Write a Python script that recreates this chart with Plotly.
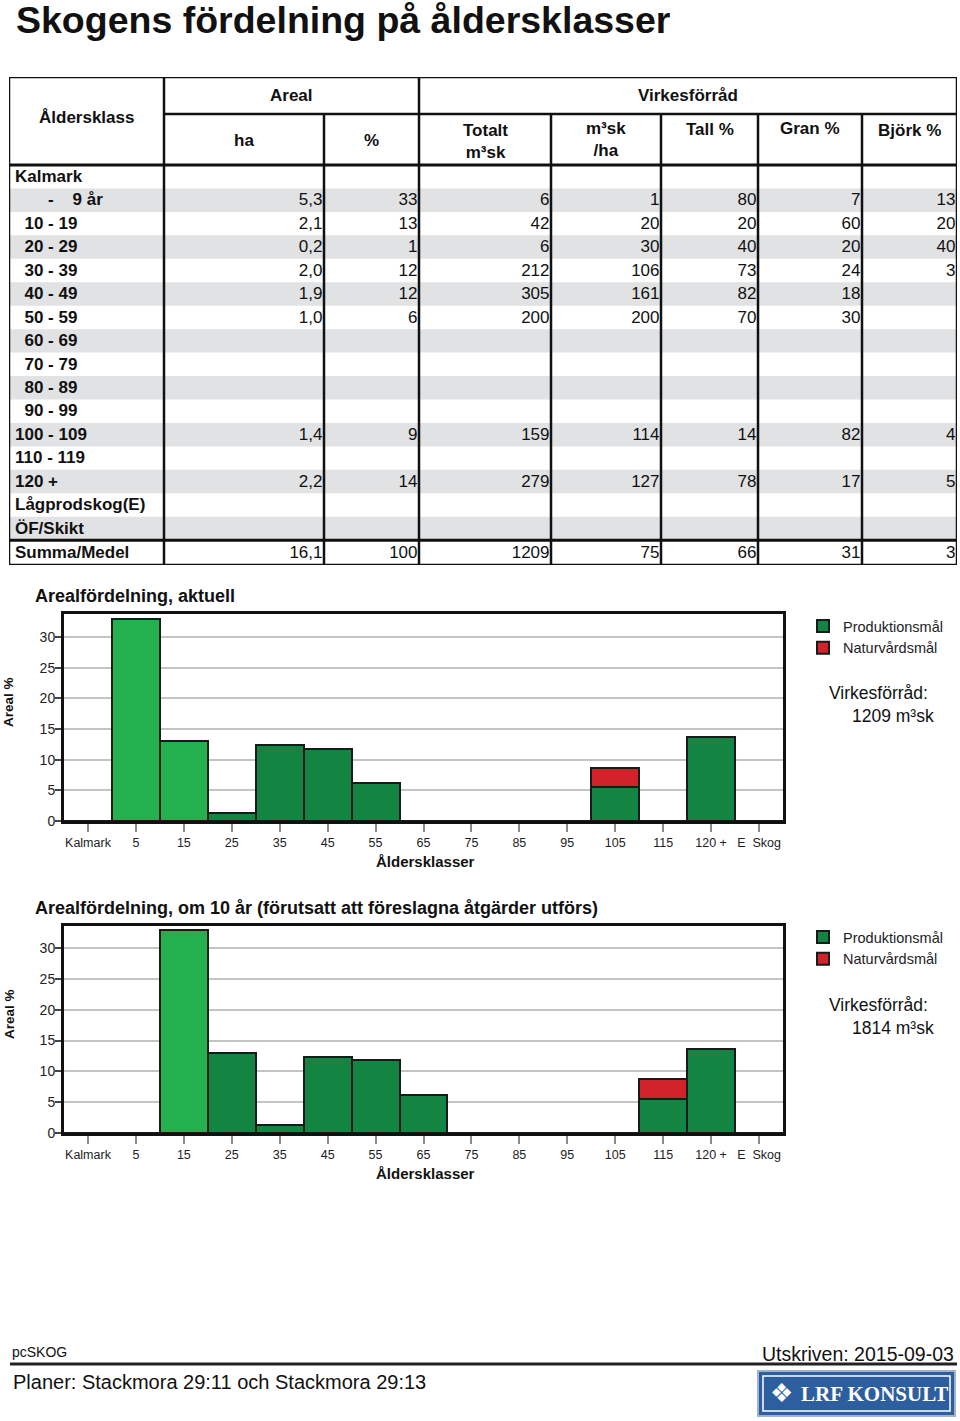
import plotly.graph_objects as go

W, H = 960, 1421


def px(x):
    return x / W


def py(y):
    return 1 - y / H


# ---------------- data ----------------
age_classes = [
    "Kalmark",
    "\u00a0\u00a0\u00a0\u00a0\u00a0\u00a0\u00a0-\u00a0\u00a0\u00a0\u00a09 år",
    "\u00a0\u00a010 - 19", "\u00a0\u00a020 - 29", "\u00a0\u00a030 - 39", "\u00a0\u00a040 - 49",
    "\u00a0\u00a050 - 59", "\u00a0\u00a060 - 69", "\u00a0\u00a070 - 79", "\u00a0\u00a080 - 89",
    "\u00a0\u00a090 - 99", "100 - 109", "110 - 119", "120 +", "Lågprodskog(E)", "ÖF/Skikt",
]
areal_ha = [None, 5.3, 2.1, 0.2, 2.0, 1.9, 1.0, None, None, None, None, 1.4, None, 2.2, None, None]
areal_pct = [None, 33, 13, 1, 12, 12, 6, None, None, None, None, 9, None, 14, None, None]
virke_tot = [None, 6, 42, 6, 212, 305, 200, None, None, None, None, 159, None, 279, None, None]
virke_per_ha = [None, 1, 20, 30, 106, 161, 200, None, None, None, None, 114, None, 127, None, None]
tall_pct = [None, 80, 20, 40, 73, 82, 70, None, None, None, None, 14, None, 78, None, None]
gran_pct = [None, 7, 60, 20, 24, 18, 30, None, None, None, None, 82, None, 17, None, None]
bjork_pct = [None, 13, 20, 40, 3, None, None, None, None, None, None, 4, None, 5, None, None]
summa_label = "Summa/Medel"
summa_values = [16.1, 100, 1209, 75, 66, 31, 3]

chart_classes = ["Kalmark", "5", "15", "25", "35", "45", "55", "65", "75", "85",
                 "95", "105", "115", "120 +", "E\u00a0\u00a0Skog"]
aktuell_prod = [0, 32.9, 13.0, 1.3, 12.4, 11.8, 6.2, 0, 0, 0, 0, 5.5, 0, 13.7, 0]
aktuell_natur = [None, None, None, None, None, None, None, None, None, None, None, 3.2, None, None, None]
aktuell_young = ["5", "15"]
om10_prod = [0, 0, 32.9, 13.0, 1.3, 12.4, 11.8, 6.2, 0, 0, 0, 0, 5.5, 13.7, 0]
om10_natur = [None, None, None, None, None, None, None, None, None, None, None, None, 3.2, None, None]
om10_young = ["15"]
virke_aktuell = 1209
virke_om10 = 1814

# ---------------- styles ----------------
FONT = "Liberation Sans, Arial, Helvetica, sans-serif"
INK = "#111111"
LIGHT_GREEN = "#22b14c"
DARK_GREEN = "#138442"
RED = "#d2232a"
STRIPE = "#e1e2e4"

col_widths = [155, 160, 95, 132, 110, 97, 104, 95]
col_edges = [0]
for w_ in col_widths:
    col_edges.append(col_edges[-1] + w_)
TABLE_W = col_edges[-1]
HDR1 = 37
HDR = 88
ROW_H = 23.45
n_rows = len(age_classes)
SUM_TOP = HDR + ROW_H * n_rows
TABLE_H = 488


def row_center(i):
    return HDR + ROW_H * (i + 0.5) + 1


def fmt(v, dec=0):
    if v is None:
        return ""
    if dec:
        return f"{v:.{dec}f}".replace(".", ",")
    return f"{v:d}"


fig = go.Figure()

# ---------------- table ----------------
fig.add_trace(go.Scatter(
    x=[6] * n_rows, y=[row_center(i) for i in range(n_rows)], text=age_classes,
    mode="text", textposition="middle right", xaxis="x", yaxis="y",
    textfont=dict(family=FONT, size=17, color=INK, weight="bold"),
    hoverinfo="skip", showlegend=False, cliponaxis=False))

table_cols = [
    (areal_ha, 1), (areal_pct, 0), (virke_tot, 0), (virke_per_ha, 0),
    (tall_pct, 0), (gran_pct, 0), (bjork_pct, 0),
]
for ci, (vals, dec) in enumerate(table_cols):
    right = col_edges[ci + 2] - 1.5
    fig.add_trace(go.Scatter(
        x=[right] * n_rows, y=[row_center(i) for i in range(n_rows)],
        text=[fmt(v, dec) for v in vals], mode="text", textposition="middle left",
        xaxis="x", yaxis="y", textfont=dict(family=FONT, size=17, color=INK),
        hoverinfo="skip", showlegend=False, cliponaxis=False))

sum_y = (SUM_TOP + TABLE_H) / 2 + 1
fig.add_trace(go.Scatter(
    x=[6], y=[sum_y], text=[summa_label], mode="text", textposition="middle right",
    xaxis="x", yaxis="y", textfont=dict(family=FONT, size=17, color=INK, weight="bold"),
    hoverinfo="skip", showlegend=False, cliponaxis=False))
fig.add_trace(go.Scatter(
    x=[col_edges[ci + 2] - 1.5 for ci in range(len(summa_values))], y=[sum_y] * len(summa_values),
    text=[fmt(summa_values[0], 1)] + [fmt(v) for v in summa_values[1:]],
    mode="text", textposition="middle left", xaxis="x", yaxis="y",
    textfont=dict(family=FONT, size=17, color=INK),
    hoverinfo="skip", showlegend=False, cliponaxis=False))

shapes = []
for i in range(n_rows):
    if i % 2 == 1:
        y0 = HDR + ROW_H * i
        shapes.append(dict(type="rect", xref="x", yref="y", x0=1, x1=TABLE_W - 1, y0=y0, y1=y0 + ROW_H,
                           fillcolor=STRIPE, line=dict(width=0), layer="below"))
LW = 2.5
for k, xe in enumerate(col_edges[1:-1], start=1):
    top = 0 if k in (1, 3) else HDR1
    shapes.append(dict(type="line", xref="x", yref="y", x0=xe, x1=xe, y0=top, y1=TABLE_H,
                       line=dict(color=INK, width=LW)))
shapes.append(dict(type="line", xref="x", yref="y", x0=col_edges[1], x1=TABLE_W, y0=HDR1, y1=HDR1,
                   line=dict(color=INK, width=LW)))
shapes.append(dict(type="line", xref="x", yref="y", x0=0, x1=TABLE_W, y0=HDR, y1=HDR,
                   line=dict(color=INK, width=3)))
shapes.append(dict(type="line", xref="x", yref="y", x0=0, x1=TABLE_W, y0=SUM_TOP, y1=SUM_TOP,
                   line=dict(color=INK, width=3)))
shapes.append(dict(type="rect", xref="x", yref="y", x0=0, x1=TABLE_W, y0=0, y1=TABLE_H,
                   line=dict(color=INK, width=LW)))

annotations = []


def tbl_text(x, y, text, yanchor="middle"):
    annotations.append(dict(xref="x", yref="y", x=x, y=y, text=text, showarrow=False,
                            xanchor="center", yanchor=yanchor, align="center",
                            font=dict(family=FONT, size=17, color=INK, weight="bold")))


def cc(k):
    return (col_edges[k] + col_edges[k + 1]) / 2


tbl_text(cc(0), 40, "Åldersklass")
tbl_text((col_edges[1] + col_edges[3]) / 2, 18, "Areal")
tbl_text((col_edges[3] + col_edges[8]) / 2, 18, "Virkesförråd")
tbl_text(cc(1), 63, "ha")
tbl_text(cc(2), 63, "%")
tbl_text(cc(3), 64, "Totalt<br>m³sk")
tbl_text(cc(4), 62, "m³sk<br>/ha")
tbl_text(cc(5), 52, "Tall %")
tbl_text(cc(6), 51, "Gran %")
tbl_text(cc(7), 53, "Björk %")

# ---------------- charts ----------------
charts = [
    dict(xa="x2", ya="y2", prod=aktuell_prod, natur=aktuell_natur, young=aktuell_young,
         top=614, bottom=821, ymax=33.75, legend="legend",
         title="Arealfördelning, aktuell", virke=virke_aktuell),
    dict(xa="x3", ya="y3", prod=om10_prod, natur=om10_natur, young=om10_young,
         top=926, bottom=1133, ymax=33.6, legend="legend2",
         title="Arealfördelning, om 10 år (förutsatt att föreslagna åtgärder utförs)", virke=virke_om10),
]

layout_axes = {}
for n, ch in enumerate(charts):
    colors = [LIGHT_GREEN if c in ch["young"] else DARK_GREEN for c in chart_classes]
    fig.add_trace(go.Bar(x=chart_classes, y=ch["prod"], name="Produktionsmål",
                         xaxis=ch["xa"], yaxis=ch["ya"], legend=ch["legend"],
                         marker=dict(color=colors, line=dict(color="#1a1a1a", width=2)),
                         hoverinfo="skip"))
    fig.add_trace(go.Bar(x=chart_classes, y=ch["natur"], name="Naturvårdsmål",
                         xaxis=ch["xa"], yaxis=ch["ya"], legend=ch["legend"],
                         marker=dict(color=RED, line=dict(color="#1a1a1a", width=2)),
                         hoverinfo="skip"))
    xk = "xaxis" + ch["xa"][1:]
    yk = "yaxis" + ch["ya"][1:]
    layout_axes[xk] = dict(
        domain=[px(64), px(783)], anchor=ch["ya"], type="category",
        categoryorder="array", categoryarray=chart_classes, range=[-0.5, 14.5],
        showline=True, linecolor="#111", linewidth=3, mirror=True,
        ticks="outside", ticklen=8, tickwidth=2, tickcolor="#8a8a8a", automargin=False,
        tickfont=dict(family=FONT, size=12.5, color="#222"), showgrid=False, fixedrange=True)
    layout_axes[yk] = dict(
        domain=[py(ch["bottom"]), py(ch["top"])], anchor=ch["xa"], range=[0, ch["ymax"]],
        tick0=0, dtick=5, showgrid=True, gridcolor="#c4c4c4", gridwidth=2, automargin=False,
        showline=True, linecolor="#111", linewidth=3, mirror=True,
        ticks="outside", ticklen=6, tickwidth=1.5, tickcolor="#444", ticklabelstandoff=-3,
        tickfont=dict(family=FONT, size=14, color="#222"), zeroline=False, fixedrange=True)

    off = ch["top"] - 614
    annotations.append(dict(xref="paper", yref="paper", x=px(33), y=py(596 + off), text=ch["title"],
                            showarrow=False, xanchor="left", yanchor="middle",
                            font=dict(family=FONT, size=18, color=INK, weight="bold")))
    annotations.append(dict(xref="paper", yref="paper", x=px(9), y=py(702 + off), text="Areal %",
                            textangle=-90, showarrow=False, xanchor="center", yanchor="middle",
                            font=dict(family=FONT, size=13.5, color=INK, weight="bold")))
    annotations.append(dict(xref="paper", yref="paper", x=px(425), y=py(861 + off), text="Åldersklasser",
                            showarrow=False, xanchor="center", yanchor="middle",
                            font=dict(family=FONT, size=15, color=INK, weight="bold")))
    annotations.append(dict(xref="paper", yref="paper", x=px(827), y=py(693 + off), text="Virkesförråd:",
                            showarrow=False, xanchor="left", yanchor="middle",
                            font=dict(family=FONT, size=17.5, color=INK)))
    annotations.append(dict(xref="paper", yref="paper", x=px(850), y=py(716 + off),
                            text=f"{ch['virke']} m³sk",
                            showarrow=False, xanchor="left", yanchor="middle",
                            font=dict(family=FONT, size=17.5, color=INK)))

legend_common = dict(xanchor="left", yanchor="top", bgcolor="rgba(0,0,0,0)",
                     font=dict(family=FONT, size=14.5, color="#222"),
                     itemclick=False, itemdoubleclick=False, traceorder="normal",
                     tracegroupgap=0)

# ---------------- page title and footer ----------------
annotations.append(dict(xref="paper", yref="paper", x=px(14), y=py(20), text="Skogens fördelning på åldersklasser",
                        showarrow=False, xanchor="left", yanchor="middle",
                        font=dict(family=FONT, size=37.5, color=INK, weight="bold")))
annotations.append(dict(xref="paper", yref="paper", x=px(10), y=py(1352), text="pcSKOG",
                        showarrow=False, xanchor="left", yanchor="middle",
                        font=dict(family=FONT, size=14, color=INK)))
annotations.append(dict(xref="paper", yref="paper", x=px(956), y=py(1354), text="Utskriven: 2015-09-03",
                        showarrow=False, xanchor="right", yanchor="middle",
                        font=dict(family=FONT, size=19.5, color=INK)))
annotations.append(dict(xref="paper", yref="paper", x=px(11), y=py(1382),
                        text="Planer: Stackmora 29:11 och Stackmora 29:13",
                        showarrow=False, xanchor="left", yanchor="middle",
                        font=dict(family=FONT, size=20, color=INK)))
annotations.append(dict(xref="paper", yref="paper", x=px(781), y=py(1393), text="❖",
                        showarrow=False, xanchor="center", yanchor="middle",
                        font=dict(family="DejaVu Sans", size=26, color="white")))
annotations.append(dict(xref="paper", yref="paper", x=px(874), y=py(1394), text="LRF KONSULT",
                        showarrow=False, xanchor="center", yanchor="middle",
                        font=dict(family="Liberation Serif, Times New Roman, serif", size=21,
                                  color="white", weight="bold")))

shapes.append(dict(type="line", xref="paper", yref="paper", x0=px(10), x1=px(957),
                   y0=py(1364), y1=py(1364), line=dict(color="#222", width=3)))
shapes.append(dict(type="rect", xref="paper", yref="paper", x0=px(758), x1=px(955),
                   y0=py(1416), y1=py(1371), fillcolor="#2d5e9f", line=dict(color="#9fb3cc", width=2)))
shapes.append(dict(type="rect", xref="paper", yref="paper", x0=px(763), x1=px(950),
                   y0=py(1411), y1=py(1376), line=dict(color="white", width=1.5)))

fig.update_layout(
    width=W, height=H, margin=dict(l=0, r=0, t=0, b=0, pad=0), autosize=False,
    paper_bgcolor="white", plot_bgcolor="white",
    barmode="stack", bargap=0, hovermode=False, showlegend=True,
    xaxis=dict(domain=[px(9), px(957)], range=[0, TABLE_W], visible=False, fixedrange=True,
               anchor="y", automargin=False),
    yaxis=dict(domain=[py(565), py(77)], range=[TABLE_H, 0], visible=False, fixedrange=True,
               anchor="x", automargin=False),
    legend=dict(x=px(803), y=py(610), **legend_common),
    legend2=dict(x=px(803), y=py(921), **legend_common),
    shapes=shapes, annotations=annotations,
    **layout_axes,
)

fig.write_html(
    "out.html",
    config={"displayModeBar": False},
    post_script="document.documentElement.style.margin='0';document.body.style.margin='0';",
)
